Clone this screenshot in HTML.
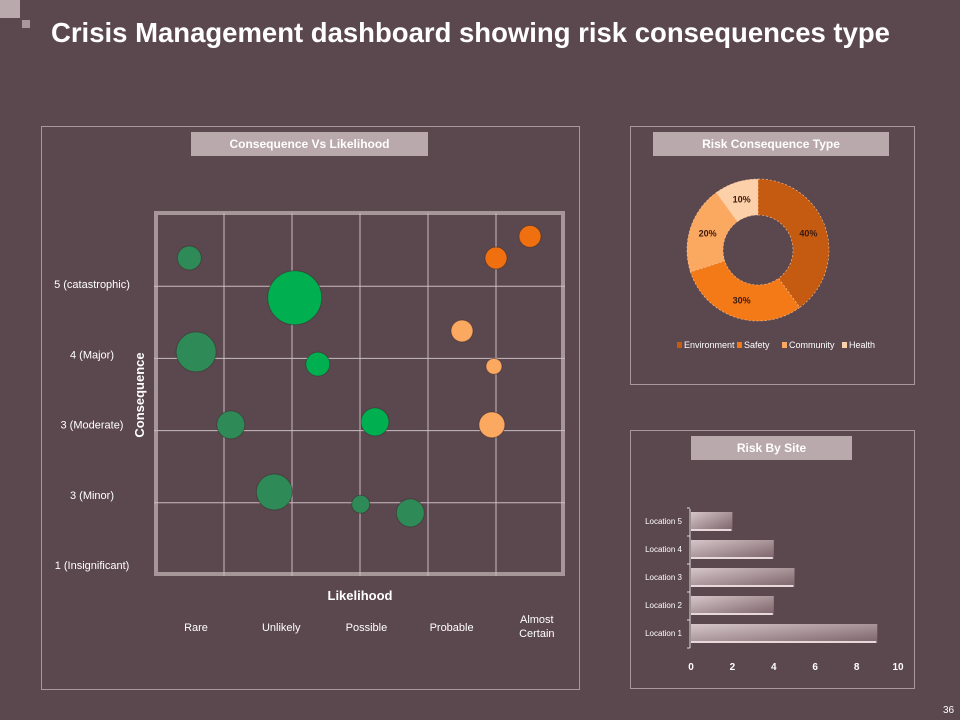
<!DOCTYPE html>
<html><head><meta charset="utf-8">
<style>
body{margin:0;width:960px;height:720px;background:#5b474e;font-family:"Liberation Sans",sans-serif;overflow:hidden;position:relative}
.t{position:absolute;color:#fff}
.panel{position:absolute;border:1px solid #a8979c}
.hdr{position:absolute;background:#b9a9ad;color:#fff;font-weight:bold;font-size:12px;text-align:center;line-height:24px}
</style></head><body>
<div style="position:absolute;left:0;top:0;width:20px;height:18px;background:#b9a9ad"></div>
<div style="position:absolute;left:22px;top:20px;width:8px;height:8px;background:#a8979c"></div>
<div class="t" style="left:51px;top:17px;font-size:27.5px;font-weight:bold">Crisis Management dashboard showing risk consequences type</div>
<div class="panel" style="left:41px;top:126px;width:537px;height:562px"></div>
<div class="hdr" style="left:191px;top:132px;width:237px">Consequence Vs Likelihood</div>
<div class="panel" style="left:630px;top:126px;width:283px;height:257px"></div>
<div class="hdr" style="left:653px;top:132px;width:236px">Risk Consequence Type</div>
<div class="panel" style="left:630px;top:430px;width:283px;height:257px"></div>
<div class="hdr" style="left:691px;top:436px;width:161px">Risk By Site</div>
<div class="t" style="left:943px;top:705px;font-size:10px">36</div>

<svg id="bub" width="960" height="720" style="position:absolute;left:0;top:0"></svg>

<script>
const NS="http://www.w3.org/2000/svg";
const svg=document.getElementById('bub');
function mk(tag,attrs,parent){const e=document.createElementNS(NS,tag);for(const k in attrs)e.setAttribute(k,attrs[k]);(parent||svg).appendChild(e);return e;}

// ---- Bubble chart data ----
const bubbleX=[0.49,2.04,0.59,2.38,1.1,3.22,1.74,3.01,3.74,5.0,5.5,4.5,4.97,4.94];
const bubbleY=[4.39,3.84,3.09,2.92,2.08,2.12,1.15,0.98,0.86,4.39,4.69,3.38,2.89,2.08];
const bubbleSize=[12,27,20,12,14,14,18,9,14,11,11,11,8,13];
const bubbleGroup=["low","mid","low","mid","low","mid","low","low","low","high","high","med","med","med"];
const consequenceLabels=["1 (Insignificant)","3 (Minor)","3 (Moderate)","4 (Major)","5 (catastrophic)"];
const likelihoodLabels=["Rare","Unlikely","Possible","Probable","Almost|Certain"];
const colors={low:"#2e8b57",mid:"#00b050",high:"#f07010",med:"#fba860"};
const bx=v=>156+v*68, by=v=>575-v*72.2;

mk('rect',{x:156,y:213,width:407,height:361,fill:'none',stroke:'#b9a9ad','stroke-width':4,opacity:0.8});
for(let i=1;i<=5;i++){const l=mk('line',{x1:bx(i),x2:bx(i),y1:213,y2:576,stroke:'#c9bcc0','stroke-width':1});}
for(let i=1;i<=4;i++){const l=mk('line',{x1:154,x2:565,y1:by(i),y2:by(i),stroke:'#c9bcc0','stroke-width':1});}
bubbleX.forEach((v,i)=>{
  const c=mk('circle',{cx:bx(v),cy:by(bubbleY[i]),r:bubbleSize[i],fill:colors[bubbleGroup[i]],stroke:'#3a2a2e','stroke-width':1,'stroke-opacity':0.5});
  
  
});
consequenceLabels.forEach((s,i)=>{
  const t=mk('text',{x:92,y:569-i*70.2,'text-anchor':'middle',fill:'#fff','font-size':11});t.textContent=s;
  
});
likelihoodLabels.forEach((s,i)=>{
  const x=196+i*85.2,parts=s.split('|');
  parts.forEach((p,j)=>{const t=mk('text',{x:x,y:(parts.length>1?623:631)+j*14,'text-anchor':'middle',fill:'#fff','font-size':11});t.textContent=p;
  });
});
let t=mk('text',{x:360,y:600,'text-anchor':'middle',fill:'#fff','font-size':13,'font-weight':'bold'});t.textContent='Likelihood';

t=mk('text',{x:144,y:395,'text-anchor':'middle',fill:'#fff','font-size':13,'font-weight':'bold',transform:'rotate(-90 144 395)'});t.textContent='Consequence';


// ---- Donut data ----
const donutLabels=["Environment","Safety","Community","Health"];
const donutValues=[40,30,20,10];
const donutColors=["#c55a11","#f47a18","#fba860","#fcd0a8"];
const cx=758,cy=250,R=71,r=35;
let tot=donutValues.reduce((a,b)=>a+b,0),ang=0;
donutValues.forEach((v,i)=>{
  const a0=ang/tot*2*Math.PI, a1=(ang+v)/tot*2*Math.PI; ang+=v;
  const p=(a,rad)=>[cx+rad*Math.sin(a),cy-rad*Math.cos(a)];
  const [x0,y0]=p(a0,R),[x1,y1]=p(a1,R),[x2,y2]=p(a1,r),[x3,y3]=p(a0,r);
  const lg=(a1-a0)>Math.PI?1:0;
  const s=mk('path',{d:`M${x0},${y0}A${R},${R} 0 ${lg} 1 ${x1},${y1}L${x2},${y2}A${r},${r} 0 ${lg} 0 ${x3},${y3}Z`,fill:donutColors[i],stroke:'#fbc89a','stroke-width':0.6,'stroke-dasharray':'2,2'});
  
  
  const am=(a0+a1)/2,[lx,ly]=p(am,(R+r)/2);
  const lt=mk('text',{x:lx,y:ly+3,'text-anchor':'middle',fill:'#3a1a10','font-size':9,'font-weight':'bold'});lt.textContent=v+'%';
  
});
const legX=[677,737,782,842];
donutLabels.forEach((s,i)=>{
  const g=mk('g',{});
  mk('rect',{x:legX[i],y:342,width:5,height:6,fill:donutColors[i]},g);
  const tt=mk('text',{x:legX[i]+7,y:348,fill:'#fff','font-size':9},g);tt.textContent=s;
});

// ---- Bar data ----
const siteLabels=["Location 1","Location 2","Location 3","Location 4","Location 5"];
const siteValues=[9,4,5,4,2];
const xTicks=[0,2,4,6,8,10];
const defs=mk('defs',{});
const lg=mk('linearGradient',{id:'bg',x1:0,y1:0,x2:1,y2:1},defs);
mk('stop',{offset:0,'stop-color':'#d6c6ca'},lg);mk('stop',{offset:1,'stop-color':'#7a6268'},lg);
const sx=v=>691+v*20.7, sy=i=>633-i*28;
mk('line',{x1:690,x2:690,y1:509,y2:648,stroke:'#ddd','stroke-width':1});
for(let i=0;i<=5;i++) mk('line',{x1:687,x2:690,y1:648-i*28,y2:648-i*28,stroke:'#ddd','stroke-width':1});
siteValues.forEach((v,i)=>{
  const b=mk('rect',{x:691,y:sy(i)-9,width:sx(v)-691,height:19,fill:'url(#bg)'});
  
  
  mk('rect',{x:691,y:sy(i)+8,width:sx(v)-692,height:2,fill:'#e6d8db'});
  const lt=mk('text',{x:682,y:sy(i)+3,'text-anchor':'end',fill:'#fff','font-size':8});lt.textContent=siteLabels[i];
  
});
xTicks.forEach(v=>{
  const tt=mk('text',{x:sx(v),y:670,'text-anchor':'middle',fill:'#fff','font-size':10,'font-weight':'bold'});tt.textContent=v;
  
});
</script>
</body></html>
